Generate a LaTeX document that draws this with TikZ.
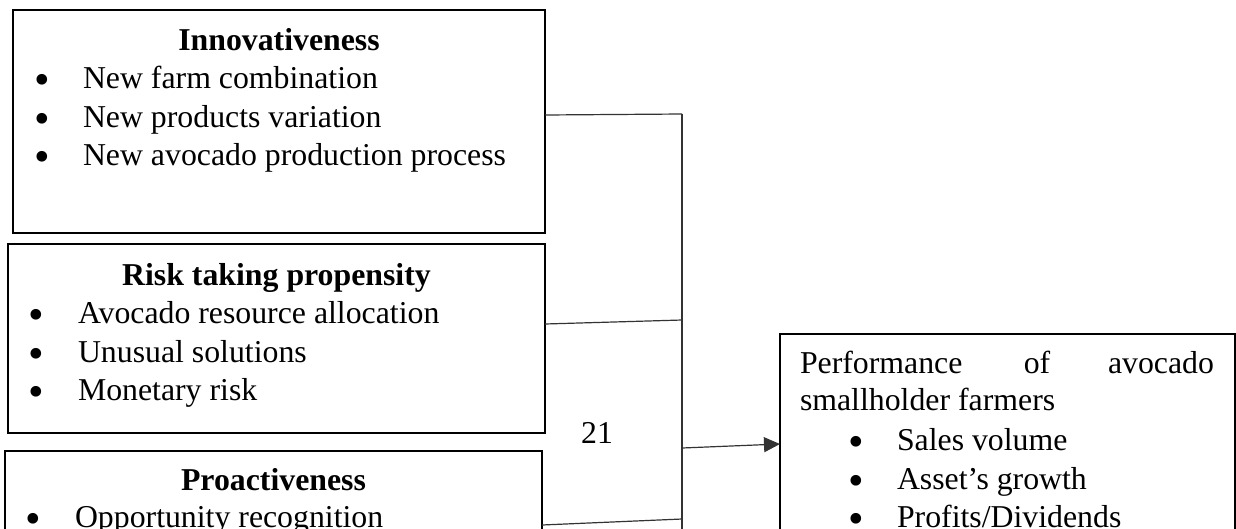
\documentclass[tikz,border=0pt]{standalone}
\usepackage{fontspec}
\usepackage{graphicx}
\setmainfont{Liberation Serif}
\usetikzlibrary{arrows.meta,calc}
\newcommand\bigbul{\raisebox{-6.5pt}[12pt][0pt]{\scalebox{1.4}{\textbullet}}}
\begin{document}
\begin{tikzpicture}[x=1pt,y=-1pt,
  box/.style={draw=black,line width=1.2pt,inner sep=0pt,outer sep=0pt,anchor=north west},
  txt/.style={inner sep=0pt,outer sep=0pt,font=\fontsize{31.8}{38}\selectfont},
  ttl/.style={txt,anchor=base,font=\fontsize{31.8}{38}\selectfont\bfseries},
  itm/.style={txt,anchor=base west},
  bul/.style={txt,anchor=base},
  conn/.style={draw=black!80,line width=1.2pt}]
\useasboundingbox (0,0) rectangle (1236,528);
\clip (0,0) rectangle (1236,528);
% boxes
\node[box,minimum width=532pt,minimum height=223pt] (inn) at (13,10) {};
\node[box,minimum width=537pt,minimum height=189pt] (risk) at (8,244) {};
\node[box,minimum width=537pt,minimum height=150pt] (pro) at (5,451) {};
\node[box,minimum width=455pt,minimum height=260pt] (perf) at (780,334) {};
% box 1 text
\node[ttl] (innT) at (279,50) {Innovativeness};
\node[bul] (innB1) at (42,88) {\bigbul};
\node[itm] (innI1) at (83,88) {New farm combination};
\node[bul] (innB2) at (42,127) {\bigbul};
\node[itm] (innI2) at (83,127) {New products variation};
\node[bul] (innB3) at (42,165) {\bigbul};
\node[itm] (innI3) at (83,165) {New avocado production process};
% box 2 text
\node[ttl] (riskT) at (276.5,285) {Risk taking propensity};
\node[bul] (riskB1) at (36,323) {\bigbul};
\node[itm] (riskI1) at (78,323) {Avocado resource allocation};
\node[bul] (riskB2) at (36,362) {\bigbul};
\node[itm] (riskI2) at (78,362) {Unusual solutions};
\node[bul] (riskB3) at (36,400) {\bigbul};
\node[itm] (riskI3) at (78,400) {Monetary risk};
% box 3 text
\node[ttl] (proT) at (273.5,490) {Proactiveness};
\node[bul] (proB1) at (33,527) {\bigbul};
\node[itm] (proI1) at (75,527) {Opportunity recognition};
% box 4 text
\node[itm] (perfL1a) at (800,373) {Performance};
\node[txt,anchor=base] (perfL1b) at (1037,373) {of};
\node[txt,anchor=base east] (perfL1c) at (1214,373) {avocado};
\node[itm] (perfL2) at (800,410) {smallholder farmers};
\node[bul] (perfB1) at (856,450) {\bigbul};
\node[itm] (perfI1) at (897,450) {Sales volume};
\node[bul] (perfB2) at (856,489) {\bigbul};
\node[itm] (perfI2) at (897,489) {Asset’s growth};
\node[bul] (perfB3) at (856,527) {\bigbul};
\node[itm] (perfI3) at (897,527) {Profits/Dividends};
% page number
\node[txt,anchor=base] (pg) at (597,443) {21};
% connectors
\coordinate (v1) at (682,114);
\coordinate (v2) at (682,320);
\coordinate (va) at (682,448);
\coordinate (v3) at (682,519);
\coordinate (vb) at (682,540);
\draw[conn] (v1) -- (vb);
\draw[conn] ($(inn.north east)+(0,105)$) -- (v1);
\draw[conn] ($(risk.north east)+(0,80)$) -- (v2);
\draw[conn] ($(pro.north east)+(0,74)$) -- (v3);
\draw[conn,-{Triangle[length=16pt,width=15pt]}] (va) -- ($(perf.north west)+(0,110)$);
\end{tikzpicture}
\end{document}
